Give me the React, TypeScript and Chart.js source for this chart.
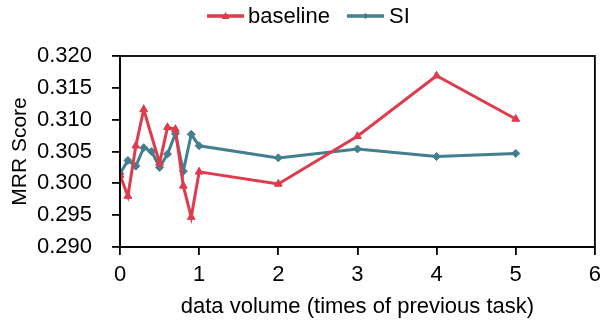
import React, { useEffect, useRef } from "react";
import { Chart, registerables } from "chart.js";

Chart.register(...registerables);

const baselineX = [0, 0.1, 0.2, 0.3, 0.5, 0.6, 0.7, 0.8, 0.9, 1, 2, 3, 4, 5];
const baselineY = [0.3013, 0.2980, 0.3059, 0.3116, 0.3032, 0.3088, 0.3085, 0.2996, 0.2947, 0.3018, 0.2999, 0.3074, 0.3169, 0.3101];
const siX = [0, 0.1, 0.2, 0.3, 0.4, 0.5, 0.6, 0.7, 0.8, 0.9, 1, 2, 3, 4, 5];
const siY = [0.3015, 0.3036, 0.3027, 0.3056, 0.3050, 0.3025, 0.3046, 0.3078, 0.3019, 0.3077, 0.3059, 0.3040, 0.3054, 0.3042, 0.3047];
const seriesNames = ["baseline", "SI"];
const xTitle = "data volume (times of previous task)";
const yTitle = "MRR Score";

const RED = "#DE3B4D";
const TEAL = "#437F8E";
const FONT = "'Liberation Sans', Arial, sans-serif";

const legendPlugin = {
  id: "customLegend",
  afterDraw(chart: any) {
    const ctx = chart.ctx;
    const { left, top, right, bottom } = chart.chartArea;
    ctx.save();
    ctx.strokeStyle = "#000";
    ctx.lineWidth = 1.8;
    ctx.strokeRect(left, top, right - left, bottom - top);
    ctx.font = `22px ${FONT}`;
    ctx.textBaseline = "middle";
    ctx.fillStyle = "#000";
    const items = [
      { name: seriesNames[0], color: RED, style: "triangle", x: 207, tx: 248 },
      { name: seriesNames[1], color: TEAL, style: "rectRot", x: 347, tx: 389 },
    ];
    const y = 16;
    for (const it of items) {
      ctx.strokeStyle = it.color;
      ctx.lineWidth = 3.5;
      ctx.beginPath();
      ctx.moveTo(it.x, y);
      ctx.lineTo(it.x + 37, y);
      ctx.stroke();
      ctx.fillStyle = it.color;
      const cx = it.x + 18.5;
      ctx.beginPath();
      if (it.style === "triangle") {
        ctx.moveTo(cx, y - 4);
        ctx.lineTo(cx + 4, y + 3);
        ctx.lineTo(cx - 4, y + 3);
      } else {
        ctx.moveTo(cx, y - 3);
        ctx.lineTo(cx + 3, y);
        ctx.lineTo(cx, y + 3);
        ctx.lineTo(cx - 3, y);
      }
      ctx.closePath();
      ctx.fill();
      ctx.fillStyle = "#000";
      ctx.textAlign = "left";
      ctx.fillText(it.name, it.tx, y + 1);
    }
    ctx.restore();
  },
};

export default function App() {
  const ref = useRef<HTMLCanvasElement>(null);
  useEffect(() => {
    document.body.style.margin = "0";
    const chart = new Chart(ref.current!, {
      type: "line",
      data: {
        datasets: [
          {
            label: seriesNames[0],
            data: baselineX.map((x, i) => ({ x, y: baselineY[i] })),
            borderColor: RED,
            backgroundColor: RED,
            borderWidth: 3,
            pointStyle: "triangle",
            pointRadius: 4.5,
            pointBorderWidth: 1,
          },
          {
            label: seriesNames[1],
            data: siX.map((x, i) => ({ x, y: siY[i] })),
            borderColor: TEAL,
            backgroundColor: TEAL,
            borderWidth: 3,
            pointStyle: "rectRot",
            pointRadius: 4,
            pointBorderWidth: 1,
          },
        ],
      },
      options: {
        animation: false,
        responsive: false,
        maintainAspectRatio: false,
        layout: { padding: { top: 56, right: 7, left: 0, bottom: 0 } },
        plugins: { legend: { display: false }, tooltip: { enabled: false } },
        scales: {
          x: {
            type: "linear",
            min: 0,
            max: 6,
            ticks: { stepSize: 1, color: "#000", font: { family: FONT, size: 22 }, padding: 7 },
            grid: { drawOnChartArea: false, drawTicks: true, tickLength: 8, color: "#000", lineWidth: 1.8 },
            border: { display: true, color: "#000", width: 1.8 },
            title: { display: true, text: xTitle, color: "#000", font: { family: FONT, size: 22 }, padding: { top: 0, bottom: 0 } },
            afterFit: (s: any) => { s.height = 73; },
          },
          y: {
            min: 0.29,
            max: 0.32,
            ticks: {
              stepSize: 0.005,
              color: "#000",
              font: { family: FONT, size: 22 },
              padding: 20,
              callback: (v: any) => Number(v).toFixed(3),
            },
            grid: { drawOnChartArea: false, drawTicks: true, tickLength: 8, color: "#000", lineWidth: 1.8 },
            border: { display: true, color: "#000", width: 1.8 },
            title: { display: true, text: yTitle, color: "#000", font: { family: FONT, size: 21 }, padding: { top: 8, bottom: 4 } },
            afterFit: (s: any) => { s.width = 120; },
          },
        },
      },
      plugins: [legendPlugin],
    });
    return () => chart.destroy();
  }, []);
  return (
    <div style={{ width: 608, height: 320 }}>
      <canvas ref={ref} width={608} height={320} style={{ display: "block" }} />
    </div>
  );
}
